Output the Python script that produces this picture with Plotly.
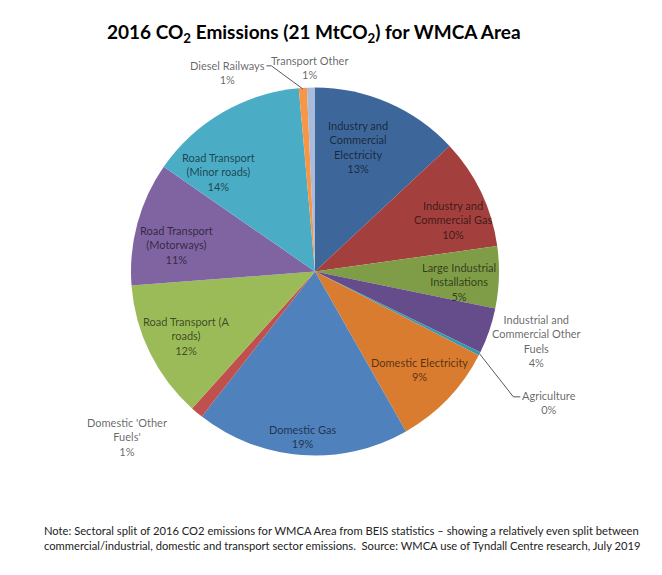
import math
import plotly.graph_objects as go

# ---------------- data ----------------
categories = [
    "Industry and Commercial Electricity",
    "Industry and Commercial Gas",
    "Large Industrial Installations",
    "Industrial and Commercial Other Fuels",
    "Agriculture",
    "Domestic Electricity",
    "Domestic Gas",
    "Domestic 'Other Fuels'",
    "Road Transport (A roads)",
    "Road Transport (Motorways)",
    "Road Transport (Minor roads)",
    "Diesel Railways",
    "Transport Other",
]
values = [13.0, 9.7, 5.4, 4.0, 0.3, 9.2, 18.7, 1.1, 12.1, 10.8, 13.9, 0.7, 0.7]
label_lines = [
    "Industry and<br>Commercial<br>Electricity",
    "Industry and<br>Commercial Gas",
    "Large Industrial<br>Installations",
    "Industrial and<br>Commercial Other<br>Fuels",
    "Agriculture",
    "Domestic Electricity",
    "Domestic Gas",
    "Domestic 'Other<br>Fuels'",
    "Road Transport (A<br>roads)",
    "Road Transport<br>(Motorways)",
    "Road Transport<br>(Minor roads)",
    "Diesel Railways",
    "Transport Other",
]
title_text = "<b>2016 CO<sub>2</sub> Emissions (21 MtCO<sub>2</sub>) for WMCA Area</b>"
note_text = ("Note: Sectoral split of 2016 CO2 emissions for WMCA Area from BEIS statistics \u2013 showing a relatively even split between<br>"
             "commercial/industrial, domestic and transport sector emissions.  Source: WMCA use of Tyndall Centre research, July 2019")

# ---------------- style ----------------
colors = ["#3D679A", "#A3403D", "#7F9C46", "#654D8B", "#3797B2", "#DA7C2F",
          "#4F81BD", "#C0504D", "#9BBB59", "#8064A2", "#4BACC6", "#F79646", "#A9BBDB"]
# label radial position (fraction of radius) and angular nudge (deg) from slice mid-angle
label_r = [0.716, 0.80, 0.785, 1.264, 1.46, 0.78, 0.90, 1.36, 0.78, 0.764, 0.755, 1.18, 1.11]
label_nudge = [-4.4, 4.9, 2.4, -1.4, 2.7, -0.5, 0.0, 8.7, -0.5, -4.2, -14.1, -20.0, -0.4]
leaders = {4: True, 11: True}

W, H = 662, 575
OFF = 8  # page body margin
CX, CY, R = 315, 271.5, 184
FONT = "Lato"
TXT = "rgba(0,0,0,0.62)"


def px2paper(px, py):
    return (px - OFF) / W, 1 - (py - OFF) / H


total = sum(values)
x0, y0 = px2paper(CX - R, CY + R)
x1, y1 = px2paper(CX + R, CY - R)
fig = go.Figure(go.Pie(
    labels=categories, values=values, sort=False, direction="clockwise",
    rotation=0, textinfo="none", hoverinfo="label+percent",
    marker=dict(colors=colors, line=dict(width=0)),
    domain=dict(x=[x0, x1], y=[y0, y1]),
    showlegend=False,
))


def polar(angle_deg, rfrac):
    a = math.radians(angle_deg)
    return CX + rfrac * R * math.sin(a), CY - rfrac * R * math.cos(a)


annotations = []
shapes = []
cum = 0.0
for i, v in enumerate(values):
    start = cum / total * 360
    cum += v
    end = cum / total * 360
    mid = (start + end) / 2
    pct = round(v / total * 100)
    px, py = polar(mid + label_nudge[i], label_r[i])
    x, y = px2paper(px, py)
    annotations.append(dict(
        x=x, y=y, xref="paper", yref="paper", showarrow=False,
        xanchor="center", yanchor="middle",
        text=f"{label_lines[i]}<br>{pct}%", align="center",
        font=dict(family=FONT, size=11, color=TXT),
    ))
    if i in leaders:
        rx, ry = polar(mid, 1.0)
        if i == 4:
            ex, ey = px - 29, py - 6
            pts = [(rx, ry), (ex - 7, ey), (ex, ey)]
        else:
            ex, ey = px + 39, py - 7
            pts = [(rx, ry + 1), (ex + 5, ey), (ex, ey)]
        conv = [px2paper(a, b) for a, b in pts]
        path = "M " + " L ".join(f"{a:.5f},{b:.5f}" for a, b in conv)
        shapes.append(dict(type="path", path=path, xref="paper", yref="paper",
                           line=dict(color="#595959", width=1)))

tx, ty = px2paper(314, 33)
annotations.append(dict(x=tx, y=ty, xref="paper", yref="paper", showarrow=False,
                        xanchor="center", yanchor="middle",
                        text=title_text, font=dict(family=FONT, size=19, color="#000000")))
nx, ny = px2paper(42, 538)
annotations.append(dict(x=nx, y=ny, xref="paper", yref="paper", showarrow=False,
                        xanchor="left", yanchor="middle", align="left", text=note_text,
                        font=dict(family=FONT, size=11.2, color="#222222")))

fig.update_layout(
    width=W, height=H, margin=dict(l=0, r=0, t=0, b=0),
    paper_bgcolor="white", plot_bgcolor="white",
    annotations=annotations, shapes=shapes,
    font=dict(family=FONT),
)
fig.write_html("out.html")
